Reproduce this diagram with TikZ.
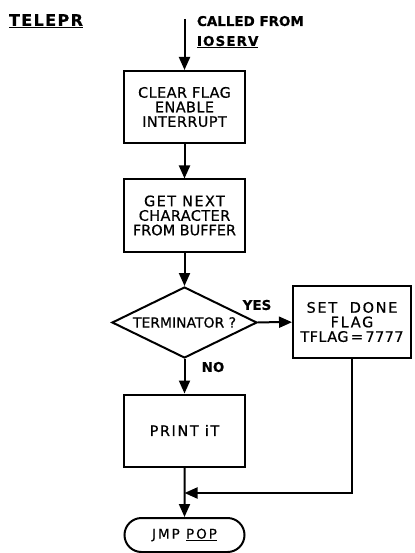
\documentclass[tikz,border=0pt]{standalone}
\usepackage{fontspec}
\setmainfont{DejaVu Sans}[FakeBold=0.6]
\newcommand{\lsp}[1]{\addfontfeature{LetterSpace=#1}}
\usetikzlibrary{shapes.geometric,shapes.misc,arrows.meta,calc}
\begin{document}
\begin{tikzpicture}[x=1bp,y=-1bp,
  line width=2bp,
  every node/.style={font=\fontsize{14.5}{14.6}\selectfont\lsp{3}, align=center, inner sep=0pt},
  procbox/.style={draw, minimum width=121bp, minimum height=72bp},
  decbox/.style={draw, diamond, aspect=2.04, minimum width=145bp, minimum height=71bp, inner sep=0pt},
  termbox/.style={draw, rounded rectangle, minimum width=120bp, minimum height=34bp},
  flow/.style={-{Triangle[width=11bp,length=13bp]}},
  lbl/.style={font=\bfseries\fontsize{13.5}{20}\selectfont}
]
\useasboundingbox (0,0) rectangle (414,553);
\node[font=\bfseries\fontsize{16}{17}\selectfont\lsp{9}] (title) at (46,21) {\underline{TELEPR}};
\coordinate (start) at (184.5,19);
\node[lbl, anchor=north west, align=left] (called) at (196,15) {CALLED FROM\\{\lsp{8}\underline{IOSERV}}};
\node[procbox] (clear) at (184.5,107) {CLEAR FLAG\\ENABLE\\INTERRUPT};
\node[procbox] (get) at (184.5,215.5) {{\lsp{10}GET NEXT}\\CHARACTER\\{\lsp{0}FROM BUFFER}};
\node[decbox] (term) at (184.5,322.5) {\fontsize{14}{14.6}\selectfont\lsp{0}TERMINATOR ?};
\node[procbox, minimum width=118bp] (done) at (352,322) {{\lsp{12}SET\ \ DONE}\\{\lsp{12}FLAG}\\TFLAG\,=\,7777};
\node[procbox] (print) at (184.5,430.5) {\lsp{11}PRINT\ iT};
\node[termbox] (jmp) at (184.5,535) {\fontsize{13.5}{14}\selectfont\lsp{15}JMP \underline{POP}};
\node[lbl] (yes) at (257,305) {YES};
\node[lbl] (no) at (213,367) {NO};
\coordinate (merge) at (184.5,493);
\draw[flow] (start) -- (clear);
\draw[flow] (clear) -- (get);
\draw[flow] (get) -- (term);
\draw[flow] (term) -- (done);
\draw[flow] (term) -- (print);
\draw[flow] (print) -- (jmp);
\draw[flow] (done.south) |- (merge);
\end{tikzpicture}
\end{document}
